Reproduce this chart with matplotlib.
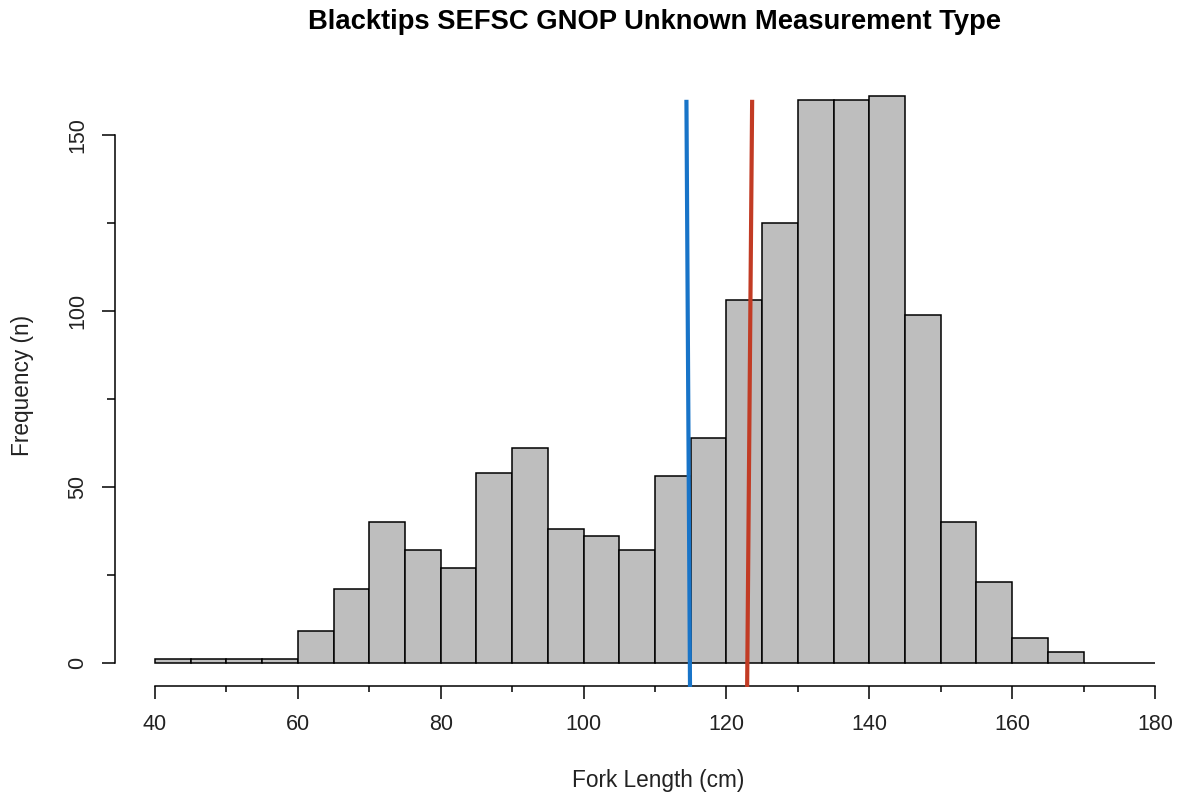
import matplotlib
matplotlib.use("Agg")
import matplotlib.pyplot as plt
import numpy as np

plt.rcParams['font.family'] = ['Liberation Sans', 'DejaVu Sans']

# Histogram of fork lengths, 5 cm bins from 40 to 180
bin_edges = list(range(40, 185, 5))
counts = [1, 1, 1, 1, 9, 21, 40, 32, 27, 54, 61, 38, 36, 32, 53, 64,
          103, 125, 160, 160, 161, 99, 40, 23, 7, 3, 0, 0]

# Reference lines drawn over the histogram (x at top, x at bottom)
blue_line_x = [114.4, 114.9]
red_line_x = [123.6, 122.9]
line_y = [160, -6.8]

x_major = [40, 60, 80, 100, 120, 140, 160, 180]
x_minor = [50, 70, 90, 110, 130, 150, 170]
y_major = [0, 50, 100, 150]
y_minor = [25, 75, 125]

W, H = 1179, 798
fig = plt.figure(figsize=(W / 100, H / 100), dpi=100)

x0, x1 = 34, 182
y0, y1 = -10, 165
px_per_x = 1000 / 140
px_per_y = 528 / 150
left_px = 155 + (x0 - 40) * px_per_x
right_px = 155 + (x1 - 40) * px_per_x
bottom_px = 663 - y0 * px_per_y
top_px = 663 - y1 * px_per_y
ax = fig.add_axes([left_px / W, 1 - bottom_px / H,
                   (right_px - left_px) / W, (bottom_px - top_px) / H])

edges = np.array(bin_edges)
widths = np.diff(edges)
ax.bar(edges[:-1], counts, width=widths, align='edge',
       color='#BEBEBE', edgecolor='black', linewidth=1.1, zorder=2)

ax.plot(blue_line_x, line_y, color='#1874C8', linewidth=3.0,
        solid_capstyle='butt', zorder=3)
ax.plot(red_line_x, line_y, color='#C23B24', linewidth=3.0,
        solid_capstyle='butt', zorder=3)

ax.set_xlim(x0, x1)
ax.set_ylim(y0, y1)

# Base-graphics style axes, offset from the plot region
for s in ['top', 'right']:
    ax.spines[s].set_visible(False)
ax.spines['left'].set_position(('data', 40 - 40 / px_per_x))
ax.spines['bottom'].set_position(('data', -(686 - 663) / px_per_y))
ax.spines['left'].set_bounds(0, 150)
ax.spines['bottom'].set_bounds(40, 180)
for s in ['left', 'bottom']:
    ax.spines[s].set_linewidth(1.1)

ax.set_xticks(x_major)
ax.set_xticks(x_minor, minor=True)
ax.set_yticks(y_major)
ax.set_yticks(y_minor, minor=True)
ax.set_xticklabels([str(v) for v in x_major])
ax.set_yticklabels([str(v) for v in y_major], rotation=90, va='center')

ax.tick_params(axis='x', which='major', length=9.5, width=1.1,
               labelsize=15.5, pad=10.5, colors='black', labelcolor='#222222')
ax.tick_params(axis='x', which='minor', length=4.5, width=1.1)
ax.tick_params(axis='y', which='major', length=9.5, width=1.1,
               labelsize=15.5, pad=10, labelcolor='#222222')
ax.tick_params(axis='y', which='minor', length=5.8, width=1.1)

fig.text(654 / W, 1 - 22 / H, 'Blacktips SEFSC GNOP Unknown Measurement Type',
         ha='center', va='center', fontsize=19.7, fontweight='bold')
fig.text(658 / W, 1 - 780 / H, 'Fork Length (cm)',
         ha='center', va='center', fontsize=16.3, color='#222222')
fig.text(22 / W, 1 - 385 / H, 'Frequency (n)', rotation=90,
         ha='center', va='center', fontsize=16.3, color='#222222')

fig.savefig('out.png', dpi=100, facecolor='white')
